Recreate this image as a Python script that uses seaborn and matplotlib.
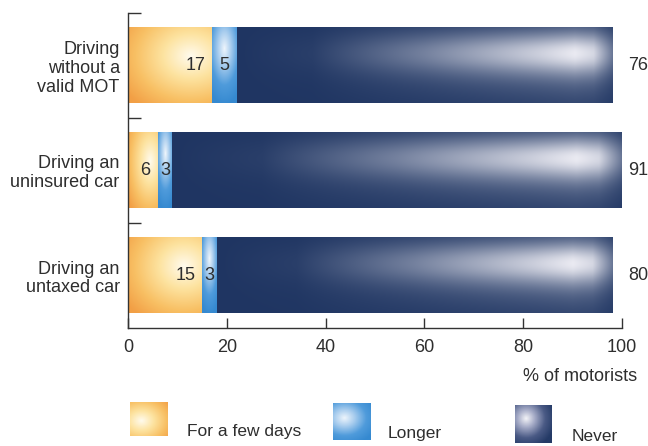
import numpy as np
import pandas as pd
import matplotlib
matplotlib.use("Agg")
import matplotlib.pyplot as plt
import seaborn as sns
from matplotlib.colors import to_rgb

# ---- data -------------------------------------------------------------
categories = ["Driving\nwithout a\nvalid MOT",
              "Driving an\nuninsured car",
              "Driving an\nuntaxed car"]
few_days = [17, 6, 15]
longer = [5, 3, 3]
never = [76, 91, 80]
segments = ["For a few days", "Longer", "Never"]
x_ticks = [0, 20, 40, 60, 80, 100]
x_label = "% of motorists"

TEXT = "#2e2e2e"
W, H = 648, 446

sns.set_theme(style="white")
plt.rcParams["font.family"] = ["Liberation Sans", "DejaVu Sans"]

df = pd.DataFrame({"category": categories, "few": few_days,
                   "longer": longer, "never": never})
df["c1"] = df["few"]
df["c2"] = df["few"] + df["longer"]
df["c3"] = df["c2"] + df["never"]

fig = plt.figure(figsize=(W / 100, H / 100), dpi=100)
fig.patch.set_facecolor("white")
ax = fig.add_axes([128 / W, 1 - 328 / H, 494 / W, 315 / H])


# ---- gradient helpers ---------------------------------------------------
def grid(h, w):
    yy, xx = np.mgrid[0:1:h * 1j, 0:1:w * 1j]
    return xx, yy


def ramp(t, stops):
    """Piecewise-linear colour ramp: stops = [(pos, colour), ...]."""
    t = np.clip(t, 0, 1)
    out = np.zeros(t.shape + (3,))
    pos = [p for p, _ in stops]
    cols = np.array([to_rgb(c) for _, c in stops])
    for k in range(3):
        out[..., k] = np.interp(t, pos, cols[:, k])
    return out


def orange_fill(h, w, cx=0.75, cy=0.38):
    xx, yy = grid(h, w)
    d = np.sqrt(((xx - cx) / 0.95) ** 2 + ((yy - cy) / 0.85) ** 2)
    return ramp(d, [(0.0, "#fffbee"), (0.35, "#fde3a0"),
                    (0.7, "#f8c064"), (1.0, "#f29f45")])


def blue_fill(h, w, cx=0.5, cy=0.28):
    xx, yy = grid(h, w)
    d = np.sqrt(((xx - cx) / 0.9) ** 2 + ((yy - cy) / 0.75) ** 2)
    return ramp(d, [(0.0, "#eef5fc"), (0.3, "#a9cdee"),
                    (0.65, "#4f9bdb"), (1.0, "#3589d0")])


def navy_fill(h, w):
    xx, yy = grid(h, w)
    hx = np.interp(xx, [0.0, 0.2, 0.5, 0.8, 0.9, 0.95, 1.0],
                   [0.0, 0.05, 0.4, 0.8, 0.95, 0.85, 0.35])
    hy = (0.8 * np.exp(-((yy - 0.33) / 0.28) ** 2)
          + 0.25 * np.exp(-((yy - 0.55) / 0.5) ** 2))
    t = np.clip(hx * hy, 0, 1)
    base = np.array(to_rgb("#1f3562"))
    light = np.array(to_rgb("#f3f2f8"))
    return base + t[..., None] * (light - base)


def navy_square(h, w):
    xx, yy = grid(h, w)
    d = np.sqrt(((xx - 0.3) / 0.8) ** 2 + ((yy - 0.35) / 0.8) ** 2)
    return ramp(d, [(0.0, "#f4f4f8"), (0.3, "#a4aac6"),
                    (0.65, "#4a5a85"), (1.0, "#243a66")])


fills = [orange_fill, blue_fill, navy_fill]

# ---- stacked bars (drawn largest total first) -----------------------------
for col in ["c3", "c2", "c1"]:
    sns.barplot(data=df, x=col, y="category", order=categories,
                orient="h", width=0.72, color="white", linewidth=0,
                ax=ax)

ax.set_xlim(0, 100)
ax.set_ylim(2.5, -0.5)

# Each barplot call produced len(categories) patches: c3, c2, c1 in order
n = len(categories)
groups = {"c3": ax.patches[0:n], "c2": ax.patches[n:2 * n],
          "c1": ax.patches[2 * n:3 * n]}
seg_patches = [groups["c1"], groups["c2"], groups["c3"]]
starts = [np.zeros(n), df["c1"].to_numpy(), df["c2"].to_numpy()]

for s, (patches, fill) in enumerate(zip(seg_patches, fills)):
    for i, p in enumerate(patches):
        y0 = p.get_y()
        y1 = y0 + p.get_height()
        x0 = starts[s][i]
        x1 = p.get_x() + p.get_width()
        wpx = max(int((x1 - x0) * 5), 4)
        img = fill(80, wpx)
        ax.imshow(img, extent=(x0, x1, y1, y0), origin="upper",
                  aspect="auto", interpolation="bilinear", zorder=2)
        p.set_visible(False)

ax.set_xlim(0, 100)
ax.set_ylim(2.5, -0.5)

# ---- value labels --------------------------------------------------------
for i in range(n):
    ax.text(df["c1"][i] - 1.4, i, str(few_days[i]), ha="right",
            va="center", fontsize=13, color=TEXT, zorder=3)
    ax.text(df["c1"][i] + longer[i] / 2, i, str(longer[i]), ha="center",
            va="center", fontsize=13, color=TEXT, zorder=3)
    ax.text(101.3, i, str(never[i]), ha="left", va="center",
            fontsize=13, color=TEXT, clip_on=False)

# ---- axes styling -----------------------------------------------------------
for side in ["top", "right"]:
    ax.spines[side].set_visible(False)
for side in ["left", "bottom"]:
    ax.spines[side].set_color("#333333")
    ax.spines[side].set_linewidth(1.0)

ax.set_xticks(x_ticks)
ax.set_xticklabels([str(v) for v in x_ticks])
ax.tick_params(axis="x", bottom=True, direction="in", length=7, width=1.0,
               color="#333333", labelsize=13, labelcolor=TEXT, pad=8)

ax.set_yticks(range(n))
ax.set_yticklabels(categories, fontsize=13, color=TEXT,
                   linespacing=1.15)
ax.tick_params(axis="y", which="major", left=False, length=0, pad=6)
ax.set_yticks([-0.5, 0.5, 1.5], minor=True)
ax.tick_params(axis="y", which="minor", left=True, direction="in",
               length=9, width=1.0, color="#333333")
for t in ax.get_yticklabels():
    t.set_horizontalalignment("right")
    t.set_multialignment("right")

ax.set_xlabel("")
ax.set_ylabel("")
fig.text(637 / W, 1 - 381 / H, x_label, ha="right", va="baseline",
         fontsize=13, color=TEXT)

# ---- legend --------------------------------------------------------------------
legend_items = [
    (segments[0], lambda h, w: orange_fill(h, w, cx=0.3, cy=0.55),
     (130, 402, 168, 436), (187, 436)),
    (segments[1], lambda h, w: blue_fill(h, w, cx=0.3, cy=0.4),
     (333, 403, 370, 440), (388, 438)),
    (segments[2], navy_square, (515, 405, 552, 443), (572, 441)),
]
for label, fn, (lx0, ly0, lx1, ly1), (tx, ty) in legend_items:
    lax = fig.add_axes([lx0 / W, 1 - ly1 / H, (lx1 - lx0) / W,
                        (ly1 - ly0) / H])
    lax.imshow(fn(60, 60), aspect="auto", interpolation="bilinear")
    lax.set_axis_off()
    fig.text(tx / W, 1 - ty / H, label, ha="left", va="baseline",
             fontsize=12.5, color=TEXT)

fig.savefig("out.png", dpi=100, facecolor="white")
